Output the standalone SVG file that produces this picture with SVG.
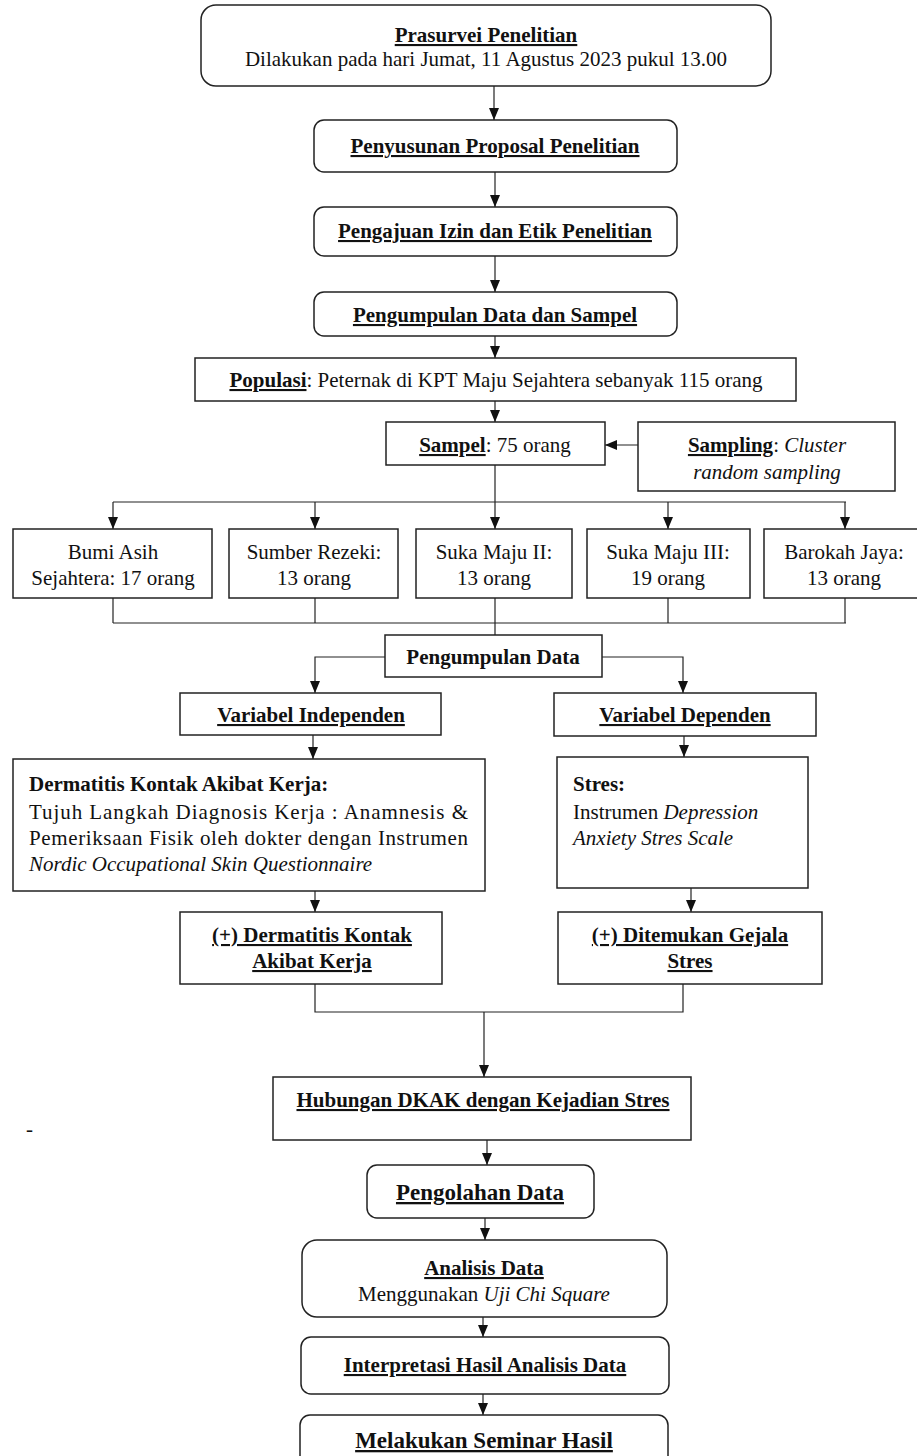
<svg xmlns="http://www.w3.org/2000/svg" width="917" height="1456" viewBox="0 0 917 1456">
<style>
text{font-family:"Liberation Serif","Times New Roman",serif;font-size:21px;fill:#111}
.c{text-anchor:middle}
.b{font-weight:bold}
.u{text-decoration:underline}
.i{font-style:italic}
.big{font-size:23px}
.box{fill:#fff;stroke:#222;stroke-width:1.5}
.ln{fill:none;stroke:#222;stroke-width:1.2}
.ar{fill:none;stroke:#222;stroke-width:1.2;marker-end:url(#ah)}
</style>
<defs>
<marker id="ah" markerUnits="userSpaceOnUse" markerWidth="12" markerHeight="12" refX="12" refY="5" orient="auto">
<path d="M0,0 L12,5 L0,10 z" fill="#111"/>
</marker>
</defs>
<rect width="917" height="1456" fill="#fff"/>
<g id="connectors">
<line class="ar" x1="494" y1="86" x2="494" y2="120"/>
<line class="ar" x1="495" y1="172" x2="495" y2="207"/>
<line class="ar" x1="495" y1="256" x2="495" y2="292"/>
<line class="ar" x1="495" y1="336" x2="495" y2="358"/>
<line class="ar" x1="495" y1="401" x2="495" y2="422"/>
<line class="ar" x1="638" y1="445" x2="605" y2="445"/>
<line class="ar" x1="495" y1="465" x2="495" y2="529"/>
<line class="ln" x1="113" y1="502" x2="846" y2="502"/>
<line class="ar" x1="113" y1="502" x2="113" y2="529"/>
<line class="ar" x1="315" y1="502" x2="315" y2="529"/>
<line class="ar" x1="668" y1="502" x2="668" y2="529"/>
<line class="ar" x1="845" y1="502" x2="845" y2="529"/>
<line class="ln" x1="113" y1="598" x2="113" y2="623"/>
<line class="ln" x1="315" y1="598" x2="315" y2="623"/>
<line class="ln" x1="495" y1="598" x2="495" y2="635"/>
<line class="ln" x1="668" y1="598" x2="668" y2="623"/>
<line class="ln" x1="845" y1="598" x2="845" y2="623"/>
<line class="ln" x1="113" y1="623" x2="846" y2="623"/>
<polyline class="ar" points="385,657 315,657 315,693"/>
<polyline class="ar" points="602,657 683,657 683,693"/>
<line class="ar" x1="313" y1="735" x2="313" y2="759"/>
<line class="ar" x1="684" y1="736" x2="684" y2="757"/>
<line class="ar" x1="315" y1="891" x2="315" y2="912"/>
<line class="ar" x1="691" y1="888" x2="691" y2="912"/>
<polyline class="ln" points="315,984 315,1012 683,1012 683,984"/>
<line class="ar" x1="484" y1="1012" x2="484" y2="1077"/>
<line class="ar" x1="487" y1="1140" x2="487" y2="1165"/>
<line class="ar" x1="485" y1="1218" x2="485" y2="1240"/>
<line class="ar" x1="483" y1="1317" x2="483" y2="1337"/>
<line class="ar" x1="483" y1="1394" x2="483" y2="1415"/>
</g>
<g id="prasurvei">
<rect class="box" x="201" y="5" width="570" height="81" rx="15"/>
<text class="c b u" x="486" y="42">Prasurvei Penelitian</text>
<text class="c" x="486" y="66">Dilakukan pada hari Jumat, 11 Agustus 2023 pukul 13.00</text>
</g>
<g id="proposal">
<rect class="box" x="314" y="120" width="363" height="52" rx="10"/>
<text class="c b u" x="495" y="153">Penyusunan Proposal Penelitian</text>
</g>
<g id="izin">
<rect class="box" x="314" y="207" width="363" height="49" rx="10"/>
<text class="c b u" x="495" y="238">Pengajuan Izin dan Etik Penelitian</text>
</g>
<g id="pengumpulan-sampel">
<rect class="box" x="314" y="292" width="363" height="44" rx="10"/>
<text class="c b u" x="495" y="322">Pengumpulan Data dan Sampel</text>
</g>
<g id="populasi">
<rect class="box" x="195" y="358" width="601" height="43"/>
<text class="c" x="496" y="387"><tspan class="b u">Populasi</tspan>: Peternak di KPT Maju Sejahtera sebanyak 115 orang</text>
</g>
<g id="sampel">
<rect class="box" x="386" y="422" width="219" height="43"/>
<text class="c" x="495" y="452"><tspan class="b u">Sampel</tspan>: 75 orang</text>
</g>
<g id="sampling">
<rect class="box" x="638" y="422" width="257" height="69"/>
<text class="c" x="767" y="452"><tspan class="b u">Sampling</tspan>: <tspan class="i">Cluster</tspan></text>
<text class="c i" x="767" y="479">random sampling</text>
</g>
<g id="bumi-asih">
<rect class="box" x="13" y="529" width="199" height="69"/>
<text class="c" x="113" y="559">Bumi Asih</text>
<text class="c" x="113" y="585">Sejahtera: 17 orang</text>
</g>
<g id="sumber-rezeki">
<rect class="box" x="229" y="529" width="169" height="69"/>
<text class="c" x="314" y="559">Sumber Rezeki:</text>
<text class="c" x="314" y="585">13 orang</text>
</g>
<g id="suka-maju-2">
<rect class="box" x="416" y="529" width="156" height="69"/>
<text class="c" x="494" y="559">Suka Maju II:</text>
<text class="c" x="494" y="585">13 orang</text>
</g>
<g id="suka-maju-3">
<rect class="box" x="587" y="529" width="163" height="69"/>
<text class="c" x="668" y="559">Suka Maju III:</text>
<text class="c" x="668" y="585">19 orang</text>
</g>
<g id="barokah-jaya">
<rect class="box" x="764" y="529" width="160" height="69"/>
<text class="c" x="844" y="559">Barokah Jaya:</text>
<text class="c" x="844" y="585">13 orang</text>
</g>
<g id="pengumpulan-data">
<rect class="box" x="385" y="635" width="217" height="42"/>
<text class="c b" x="493" y="664">Pengumpulan Data</text>
</g>
<g id="var-independen">
<rect class="box" x="180" y="693" width="261" height="42"/>
<text class="c b u" x="311" y="722">Variabel Independen</text>
</g>
<g id="var-dependen">
<rect class="box" x="554" y="693" width="262" height="43"/>
<text class="c b u" x="685" y="722">Variabel Dependen</text>
</g>
<g id="dkak-instrumen">
<rect class="box" x="13" y="759" width="472" height="132"/>
<text class="b" x="29" y="791">Dermatitis Kontak Akibat Kerja:</text>
<text x="29" y="819" textLength="439" lengthAdjust="spacing">Tujuh Langkah Diagnosis Kerja : Anamnesis &amp;</text>
<text x="29" y="845" textLength="439" lengthAdjust="spacing">Pemeriksaan Fisik oleh dokter dengan Instrumen</text>
<text class="i" x="29" y="871">Nordic Occupational Skin Questionnaire</text>
</g>
<g id="stres-instrumen">
<rect class="box" x="557" y="757" width="251" height="131"/>
<text class="b" x="573" y="791">Stres:</text>
<text x="573" y="819">Instrumen <tspan class="i">Depression</tspan></text>
<text class="i" x="573" y="845">Anxiety Stres Scale</text>
</g>
<g id="dkak-positif">
<rect class="box" x="180" y="912" width="262" height="72"/>
<text class="c b u" x="312" y="942">(+) Dermatitis Kontak</text>
<text class="c b u" x="312" y="968">Akibat Kerja</text>
</g>
<g id="stres-positif">
<rect class="box" x="558" y="912" width="264" height="72"/>
<text class="c b u" x="690" y="942">(+) Ditemukan Gejala</text>
<text class="c b u" x="690" y="968">Stres</text>
</g>
<g id="hubungan">
<rect class="box" x="273" y="1077" width="418" height="63"/>
<text class="c b u" x="483" y="1107">Hubungan DKAK dengan Kejadian Stres</text>
</g>
<text x="26" y="1136">-</text>
<g id="pengolahan">
<rect class="box" x="367" y="1165" width="227" height="53" rx="10"/>
<text class="c b u big" x="480" y="1200">Pengolahan Data</text>
</g>
<g id="analisis">
<rect class="box" x="302" y="1240" width="365" height="77" rx="15"/>
<text class="c b u" x="484" y="1275">Analisis Data</text>
<text class="c" x="484" y="1301">Menggunakan <tspan class="i">Uji Chi Square</tspan></text>
</g>
<g id="interpretasi">
<rect class="box" x="301" y="1337" width="368" height="57" rx="10"/>
<text class="c b u" x="485" y="1372">Interpretasi Hasil Analisis Data</text>
</g>
<g id="seminar">
<rect class="box" x="300" y="1415" width="368" height="60" rx="10"/>
<text class="c b u big" x="484" y="1448">Melakukan Seminar Hasil</text>
</g>
</svg>
